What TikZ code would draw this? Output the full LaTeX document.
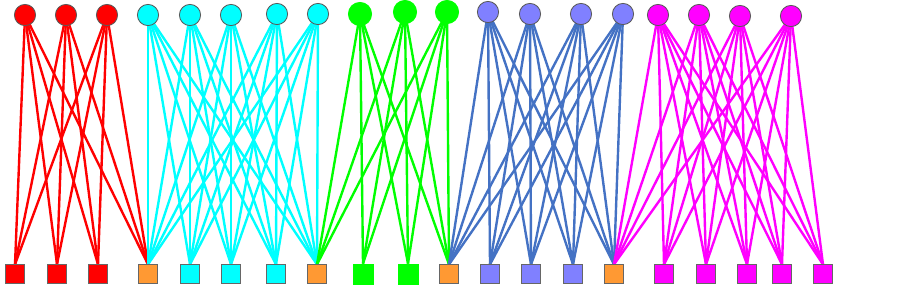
\documentclass[tikz,border=0pt]{standalone}
\usetikzlibrary{backgrounds}

\definecolor{vred}{HTML}{FF0000}
\definecolor{vcyan}{HTML}{00FFFF}
\definecolor{vgreen}{HTML}{00FF00}
\definecolor{vblue}{HTML}{8080FF}
\definecolor{lblue}{HTML}{4472C4}
\definecolor{vmagenta}{HTML}{FF00FF}
\definecolor{shared}{HTML}{FF9933}

\tikzset{
  varnode/.style={circle, draw=black!65, line width=0.6pt, minimum size=0.53cm, inner sep=0pt},
  checknode/.style={rectangle, draw=black!60, line width=0.6pt, minimum size=0.46cm, inner sep=0pt},
  link/.style={line width=1.7pt}
}

\begin{document}
\begin{tikzpicture}[x=0.025cm, y=-0.025cm]
    \useasboundingbox (0,0) rectangle (902,286);
    \def\toprow{15}
    \def\botrow{274}

    % Variable nodes (top row)
    \node[varnode, fill=vred] (r1) at (25,\toprow) {};
    \node[varnode, fill=vred] (r2) at (66,\toprow) {};
    \node[varnode, fill=vred] (r3) at (107,\toprow) {};

    \node[varnode, fill=vcyan] (c1) at (148,\toprow) {};
    \node[varnode, fill=vcyan] (c2) at (190,\toprow) {};
    \node[varnode, fill=vcyan] (c3) at (231,\toprow) {};
    \node[varnode, fill=vcyan] (c4) at (277,14) {};
    \node[varnode, fill=vcyan] (c5) at (318,14) {};

    \node[varnode, fill=vgreen, minimum size=0.58cm, draw=vgreen] (g1) at (360,14) {};
    \node[varnode, fill=vgreen, minimum size=0.58cm, draw=vgreen] (g2) at (405,12) {};
    \node[varnode, fill=vgreen, minimum size=0.58cm, draw=vgreen] (g3) at (447,12) {};

    \node[varnode, fill=vblue] (b1) at (488,12) {};
    \node[varnode, fill=vblue] (b2) at (530,14) {};
    \node[varnode, fill=vblue] (b3) at (581,14) {};
    \node[varnode, fill=vblue] (b4) at (623,14) {};

    \node[varnode, fill=vmagenta] (m1) at (658,\toprow) {};
    \node[varnode, fill=vmagenta] (m2) at (699,\toprow) {};
    \node[varnode, fill=vmagenta] (m3) at (740,16) {};
    \node[varnode, fill=vmagenta] (m4) at (791,16) {};

    % Check nodes (bottom row)
    \node[checknode, fill=vred] (rs1) at (15,\botrow) {};
    \node[checknode, fill=vred] (rs2) at (57,\botrow) {};
    \node[checknode, fill=vred] (rs3) at (98,\botrow) {};
    \node[checknode, fill=shared] (o1) at (148,\botrow) {};
    \node[checknode, fill=vcyan] (cs1) at (190,\botrow) {};
    \node[checknode, fill=vcyan] (cs2) at (231,\botrow) {};
    \node[checknode, fill=vcyan] (cs3) at (276,\botrow) {};
    \node[checknode, fill=shared] (o2) at (317,\botrow) {};
    \node[checknode, fill=vgreen, draw=vgreen, minimum size=0.5cm] (gs1) at (363,\botrow) {};
    \node[checknode, fill=vgreen, draw=vgreen, minimum size=0.5cm] (gs2) at (408,\botrow) {};
    \node[checknode, fill=shared] (o3) at (449,\botrow) {};
    \node[checknode, fill=vblue] (bs1) at (490,\botrow) {};
    \node[checknode, fill=vblue] (bs2) at (531,\botrow) {};
    \node[checknode, fill=vblue] (bs3) at (573,\botrow) {};
    \node[checknode, fill=shared] (o4) at (614,\botrow) {};
    \node[checknode, fill=vmagenta] (ms1) at (664,\botrow) {};
    \node[checknode, fill=vmagenta] (ms2) at (706,\botrow) {};
    \node[checknode, fill=vmagenta] (ms3) at (747,\botrow) {};
    \node[checknode, fill=vmagenta] (ms4) at (782,\botrow) {};
    \node[checknode, fill=vmagenta] (ms5) at (823,\botrow) {};

    % Edges behind the nodes
    \begin{scope}[on background layer]
        \foreach \v in {r1,r2,r3}
            \foreach \c in {rs1,rs2,rs3,o1}
                \draw[link, vred] (\v.center) -- (\c.north);
        \foreach \v in {c1,c2,c3,c4,c5}
            \foreach \c in {o1,cs1,cs2,cs3,o2}
                \draw[link, vcyan] (\v.center) -- (\c.north);
        \foreach \v in {g1,g2,g3}
            \foreach \c in {o2,gs1,gs2,o3}
                \draw[link, vgreen] (\v.center) -- (\c.north);
        \foreach \v in {b1,b2,b3,b4}
            \foreach \c in {o3,bs1,bs2,bs3,o4}
                \draw[link, lblue] (\v.center) -- (\c.north);
        \foreach \v in {m1,m2,m3,m4}
            \foreach \c in {o4,ms1,ms2,ms3,ms4,ms5}
                \draw[link, vmagenta] (\v.center) -- (\c.north);
    \end{scope}
\end{tikzpicture}
\end{document}
